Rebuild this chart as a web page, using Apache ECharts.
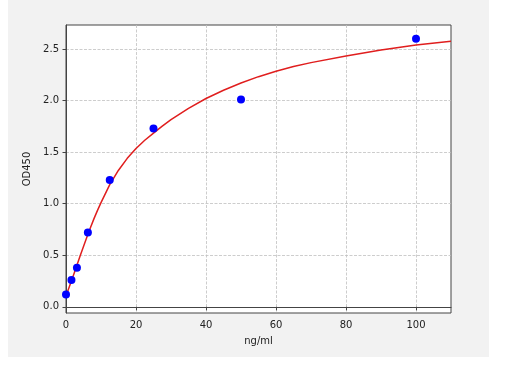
<!DOCTYPE html>
<html><head><meta charset="utf-8">
<script src="https://cdn.jsdelivr.net/npm/echarts@6/dist/echarts.min.js"></script>
<style>html,body{margin:0;padding:0;background:#fff;}#c{width:514px;height:366px;}</style>
</head><body><div id="c"></div>
<script>
// Standard points
const concentrations = [0, 1.56, 3.125, 6.25, 12.5, 25, 50, 100];
const odValues = [0.12, 0.26, 0.38, 0.72, 1.23, 1.73, 2.01, 2.60];
// Fitted curve
const curveX = [0, 1, 2, 3, 4, 5, 6, 7, 8, 9, 10, 12.5, 15, 17.5, 20, 22.5, 25, 27.5, 30, 35, 40, 45, 50, 55, 60, 65, 70, 80, 90, 100, 110];
const curveY = [0.105, 0.20, 0.295, 0.39, 0.49, 0.585, 0.68, 0.77, 0.855, 0.935, 1.01, 1.185, 1.325, 1.44, 1.535, 1.615, 1.685, 1.752, 1.815, 1.925, 2.02, 2.10, 2.17, 2.232, 2.285, 2.33, 2.368, 2.432, 2.49, 2.54, 2.575];
const xTicks = [0, 20, 40, 60, 80, 100];
const yTicks = [0, 0.5, 1.0, 1.5, 2.0, 2.5];
const xName = 'ng/ml';
const yName = 'OD450';

const chart = echarts.init(document.getElementById('c'), null, {renderer: 'canvas'});
const font = 'DejaVu Sans';
const axisColor = '#444';
chart.setOption({
  animation: false,
  backgroundColor: '#ffffff',
  graphic: [{type: 'rect', shape: {x: 8, y: 0, width: 481, height: 357}, style: {fill: '#f2f2f2'}, z: -10, silent: true}],
  grid: {left: 66, top: 25, width: 385, height: 288, show: true, backgroundColor: '#ffffff', borderColor: axisColor, borderWidth: 1},
  xAxis: {
    type: 'value', min: 0, max: 110,
    name: xName, nameLocation: 'middle', nameGap: 23,
    nameTextStyle: {fontFamily: font, fontSize: 10, color: '#222'},
    axisLine: {show: true, lineStyle: {color: axisColor, width: 1}},
    axisTick: {show: true, length: 3.5, lineStyle: {color: axisColor}, customValues: xTicks},
    axisLabel: {fontFamily: font, fontSize: 10, color: '#222', margin: 7, customValues: xTicks, formatter: v => String(v)},
    splitLine: {show: true, lineStyle: {color: '#c0c0c0', width: 0.8, type: [3, 1.5]}}
  },
  yAxis: {
    type: 'value', min: -0.06, max: 2.733,
    name: yName, nameLocation: 'middle', nameGap: 27, nameRotate: 90,
    nameTextStyle: {fontFamily: font, fontSize: 10, color: '#222'},
    axisLine: {show: true, lineStyle: {color: axisColor, width: 1}},
    axisTick: {show: true, length: 3.5, lineStyle: {color: axisColor}, customValues: yTicks},
    axisLabel: {fontFamily: font, fontSize: 10, color: '#222', margin: 7, customValues: yTicks, formatter: v => v.toFixed(1)},
    splitLine: {show: true, lineStyle: {color: '#c0c0c0', width: 0.8, type: [3, 1.5]}}
  },
  series: [
    {type: 'line', data: curveX.map((x, i) => [x, curveY[i]]), smooth: false, showSymbol: false,
     lineStyle: {color: '#e01e1e', width: 1.5, join: 'round'}, z: 2},
    {type: 'scatter', data: concentrations.map((x, i) => [x, odValues[i]]), symbolSize: 8,
     itemStyle: {color: '#0000ff', opacity: 1}, z: 3}
  ]
});
</script></body></html>
